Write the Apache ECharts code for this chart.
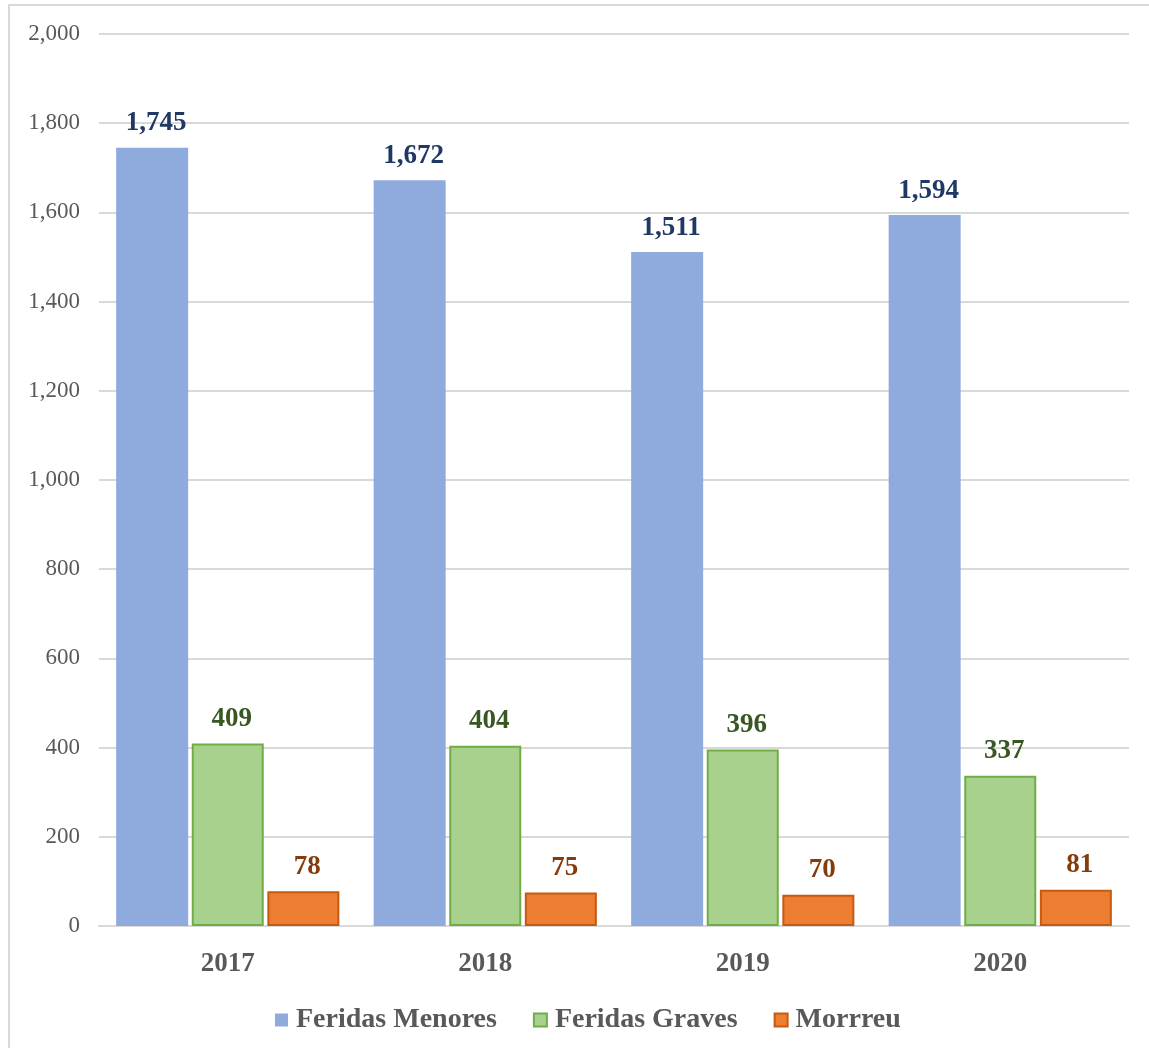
<!DOCTYPE html>
<html>
<head>
<meta charset="utf-8">
<style>
html,body{margin:0;padding:0;background:#fff;}
#chart{position:absolute;left:0;top:0;width:1149px;height:1048px;}
#frame{position:absolute;left:8px;top:4px;width:1160px;height:1070px;border:2px solid #d9d9d9;pointer-events:none;box-sizing:border-box;}
</style>
<script src="https://cdn.jsdelivr.net/npm/echarts@6/dist/echarts.min.js"></script>
</head>
<body>
<div id="chart"></div>
<div id="frame"></div>
<script>
const categories = ['2017', '2018', '2019', '2020'];
const feridasMenores = [1745, 1672, 1511, 1594];
const feridasGraves = [409, 404, 396, 337];
const morrreu = [78, 75, 70, 81];
const seriesNames = ['Feridas Menores', 'Feridas Graves', 'Morrreu'];

const font = '"Liberation Serif", "Times New Roman", serif';
const chart = echarts.init(document.getElementById('chart'));

function lbl(color) {
  return {
    show: true, position: 'top', distance: 11, offset: [4, 0],
    fontFamily: font, fontWeight: 'bold', fontSize: 27, color: color,
    formatter: p => p.value.toLocaleString('en-US')
  };
}

chart.setOption({
  animation: false,
  backgroundColor: '#fff',
  grid: { left: 99, right: 20, top: 34, bottom: 122 },
  legend: {
    bottom: 9, left: 270,
    itemWidth: 13, itemHeight: 13, itemGap: 36,
    icon: 'rect',
    textStyle: { fontFamily: font, fontWeight: 'bold', fontSize: 28, color: '#595959', padding: [0, 0, 0, 3] },
    data: seriesNames
  },
  xAxis: {
    type: 'category', data: categories,
    axisLine: { show: true, lineStyle: { color: '#d9d9d9', width: 2 } },
    axisTick: { show: false },
    axisLabel: { fontFamily: font, fontWeight: 'bold', fontSize: 27, color: '#595959', margin: 25 }
  },
  yAxis: {
    type: 'value', min: 0, max: 2000, interval: 200,
    axisLine: { show: false }, axisTick: { show: false },
    splitLine: { lineStyle: { color: '#d9d9d9', width: 2 } },
    axisLabel: { fontFamily: font, fontSize: 23, color: '#595959', margin: 19,
      formatter: v => v.toLocaleString('en-US') }
  },
  series: [
    { name: seriesNames[0], type: 'bar', data: feridasMenores, barWidth: 72, barGap: '5%',
      itemStyle: { color: '#8FAADC' }, label: lbl('#1F3864') },
    { name: seriesNames[1], type: 'bar', data: feridasGraves, barWidth: 72, barGap: '5%',
      itemStyle: { color: '#A9D18E', borderColor: '#70AD47', borderWidth: 2 }, label: lbl('#385723') },
    { name: seriesNames[2], type: 'bar', data: morrreu, barWidth: 72, barGap: '5%',
      itemStyle: { color: '#ED7D31', borderColor: '#C55A11', borderWidth: 2 }, label: lbl('#843C0C') }
  ]
});
</script>
</body>
</html>
